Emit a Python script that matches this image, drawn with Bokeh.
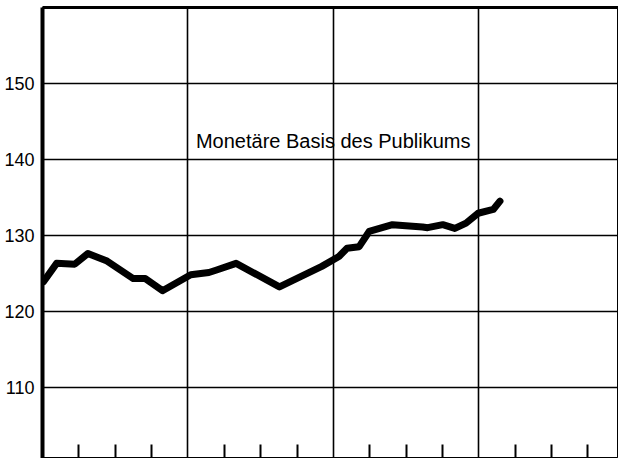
from bokeh.plotting import figure
from bokeh.models import FixedTicker, LinearAxis, Grid, Range1d, ColumnDataSource
from bokeh.core.properties import value
from bokeh.embed import file_html
from bokeh.resources import INLINE

# Data (x in years from start of chart, y = index value)
t_years = [0.007, 0.097, 0.222, 0.312, 0.444, 0.624, 0.707, 0.825, 1.019, 1.144,
           1.192, 1.331, 1.629, 1.920, 2.038, 2.094, 2.177, 2.246, 2.406, 2.613,
           2.648, 2.752, 2.835, 2.912, 2.995, 3.099, 3.145]
basis = [123.9, 126.3, 126.2, 127.6, 126.6, 124.3, 124.3, 122.7, 124.8, 125.1,
         125.4, 126.3, 123.2, 125.9, 127.2, 128.3, 128.5, 130.5, 131.4, 131.1,
         131.0, 131.4, 130.9, 131.6, 132.9, 133.4, 134.5]
y_ticks = [110, 120, 130, 140, 150]
year_ticks = [0, 1, 2, 3, 4]
quarter_ticks = [0.25, 0.5, 0.75, 1.25, 1.5, 1.75, 2.25, 2.5, 2.75, 3.25, 3.5, 3.75]
label_text = "Monetäre Basis des Publikums"

FONT = "Liberation Sans"

p = figure(width=618, height=458, output_backend="svg", toolbar_location=None,
           x_range=Range1d(0, 3.96), y_range=Range1d(100.6, 160.0),
           x_axis_type=None, y_axis_type=None,
           min_border_left=42, min_border_right=0, min_border_top=7, min_border_bottom=0)
p.outline_line_color = "black"
p.outline_line_width = 1
p.background_fill_color = "white"
p.border_fill_color = "white"

# y axis
yaxis = LinearAxis(ticker=FixedTicker(ticks=y_ticks))
yaxis.axis_line_width = 4
yaxis.axis_line_color = "black"
yaxis.major_tick_in = 0
yaxis.major_tick_out = 0
yaxis.minor_tick_in = 0
yaxis.minor_tick_out = 0
yaxis.major_label_standoff = 8
yaxis.major_label_text_font = FONT
yaxis.major_label_text_font_size = "18px"
yaxis.major_label_text_color = "black"
p.add_layout(yaxis, "left")

# x axis: only quarter ticks drawn inward, no labels
xaxis = LinearAxis(ticker=FixedTicker(ticks=[], minor_ticks=quarter_ticks))
xaxis.axis_line_width = 2
xaxis.axis_line_color = "black"
xaxis.major_tick_in = 0
xaxis.major_tick_out = 0
xaxis.minor_tick_in = 14
xaxis.minor_tick_out = 0
xaxis.minor_tick_line_width = 2
xaxis.minor_tick_line_color = "black"
xaxis.major_label_standoff = 0
p.add_layout(xaxis, "below")

# thick top border
top = LinearAxis(ticker=FixedTicker(ticks=[]))
top.axis_line_width = 3
top.axis_line_color = "black"
top.major_tick_in = 0
top.major_tick_out = 0
top.minor_tick_in = 0
top.minor_tick_out = 0
top.major_label_standoff = 0
p.add_layout(top, "above")

xgrid = Grid(dimension=0, ticker=FixedTicker(ticks=year_ticks),
             grid_line_color="black", grid_line_width=1.6)
ygrid = Grid(dimension=1, ticker=FixedTicker(ticks=y_ticks),
             grid_line_color="black", grid_line_width=1.6)
p.add_layout(xgrid)
p.add_layout(ygrid)

src = ColumnDataSource(data=dict(t=t_years, v=basis))
p.line("t", "v", source=src, line_color="black", line_width=7,
       line_join="round", line_cap="round")

p.text(x=[1.055], y=[142.4], text=[label_text], text_font=value(FONT),
       text_font_size="20px", text_color="black", text_baseline="alphabetic",
       text_align="left")

open("out.html", "w").write(file_html(p, INLINE))
